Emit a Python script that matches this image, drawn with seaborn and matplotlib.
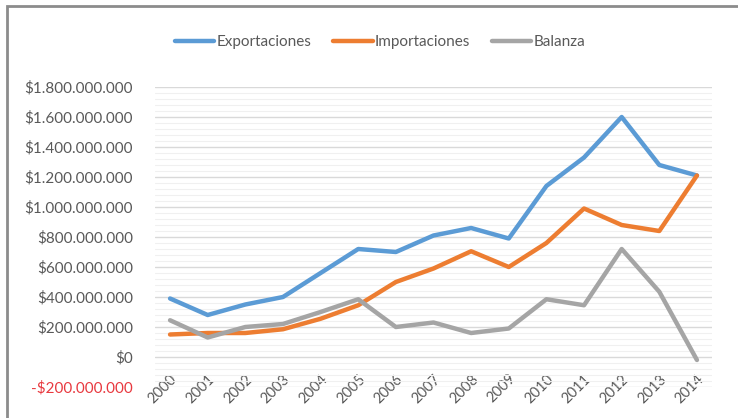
import numpy as np
import pandas as pd
import matplotlib
matplotlib.use("Agg")
import matplotlib.pyplot as plt
from matplotlib.patches import Rectangle
from matplotlib.ticker import FuncFormatter, MultipleLocator
import seaborn as sns

years = list(range(2000, 2015))
exportaciones = [390, 280, 350, 400, 560, 720, 700, 810, 860, 790, 1140, 1330, 1600, 1280, 1210]
importaciones = [150, 160, 160, 185, 255, 345, 500, 590, 705, 600, 760, 990, 880, 840, 1210]
balanza = [245, 130, 200, 220, 300, 385, 200, 230, 160, 190, 385, 345, 720, 435, -20]
series_names = ["Exportaciones", "Importaciones", "Balanza"]
colors = ["#5B9BD5", "#ED7D31", "#A5A5A5"]

df = pd.DataFrame({
    "Año": years * 3,
    "Serie": sum([[n] * len(years) for n in series_names], []),
    "Valor": np.array(exportaciones + importaciones + balanza) * 1e6,
})

sns.set_theme(style="white")
plt.rcParams["font.family"] = ["Lato", "DejaVu Sans"]

fig = plt.figure(figsize=(7.38, 4.18), dpi=100)
ax = fig.add_axes([155 / 738, 1 - 387 / 418, 557 / 738, 300 / 418])

sns.lineplot(data=df, x="Año", y="Valor", hue="Serie", palette=colors,
             linewidth=3.2, ax=ax, legend=False)

ax.set_xlim(1999.6, 2014.4)
ax.set_ylim(-200e6, 1800e6)
ax.yaxis.set_major_locator(MultipleLocator(200e6))
ax.yaxis.set_minor_locator(MultipleLocator(40e6))
ax.grid(True, which="major", axis="y", color="#d9d9d9", lw=1)
ax.grid(True, which="minor", axis="y", color="#f0f0f0", lw=0.8)
ax.set_axisbelow(True)
for s in ax.spines.values():
    s.set_visible(False)


def money(v, pos):
    s = f"{abs(v):,.0f}".replace(",", ".")
    return ("-$" if v < 0 else "$") + s


ax.yaxis.set_major_formatter(FuncFormatter(money))
ax.set_xticks(years)
ax.set_xticklabels([str(y) for y in years], rotation=45, ha="right",
                   rotation_mode="anchor")
ax.tick_params(axis="x", pad=-11, labelsize=10.5, colors="#595959", length=0)
ax.tick_params(axis="y", labelsize=11, colors="#595959", length=0, pad=16)
for lbl in ax.get_yticklabels():
    if lbl.get_text().startswith("-"):
        lbl.set_color("#e8393f")
ax.set_xlabel("")
ax.set_ylabel("")

handles = [plt.Line2D([], [], color=c, lw=3.2) for c in colors]
fig.legend(handles, series_names, loc="center", bbox_to_anchor=(380 / 738, 1 - 42 / 418),
           ncol=3, frameon=False, fontsize=11, handlelength=2.6, handletextpad=0.15,
           columnspacing=1.4, labelcolor="#595959")

fig.patches.append(Rectangle((7 / 738, -0.1), 1.2, 1 - 6 / 418 + 0.1, transform=fig.transFigure,
                             fill=False, edgecolor="#8c8c8c", lw=2))

fig.savefig("out.png", dpi=100)
